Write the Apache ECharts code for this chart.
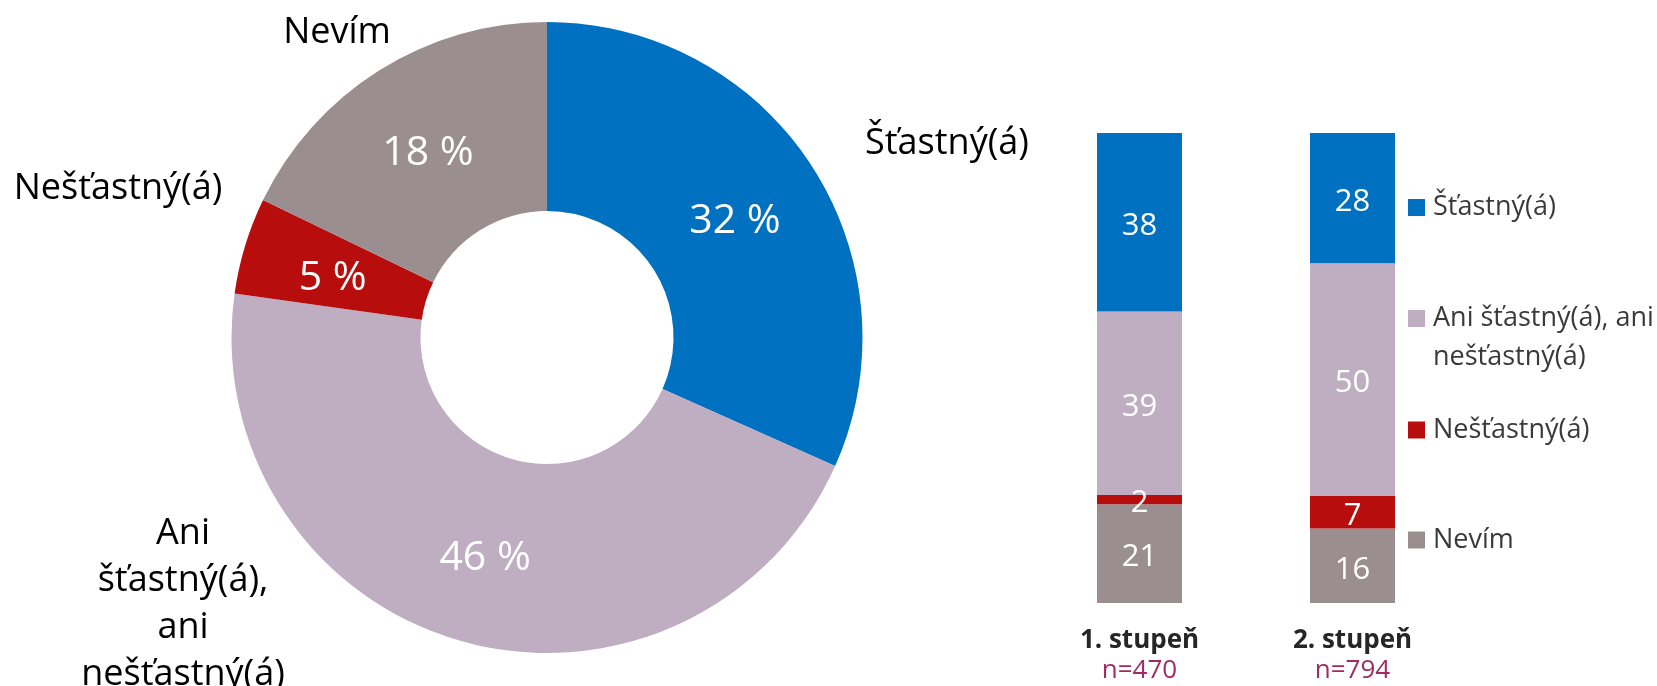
<!DOCTYPE html>
<html>
<head>
<meta charset="utf-8">
<script src="https://cdn.jsdelivr.net/npm/echarts@6/dist/echarts.min.js"></script>
<style>
html,body{margin:0;padding:0;background:#fff;}
#main{width:1657px;height:686px;}
</style>
</head>
<body>
<div id="main"></div>
<script>
// ---- data ----
const categories = ['Šťastný(á)', 'Ani šťastný(á), ani nešťastný(á)', 'Nešťastný(á)', 'Nevím'];
const overallPct = [32, 46, 5, 18];
const groups = ['1. stupeň', '2. stupeň'];
const groupN = [470, 794];
const happy = [38, 28];
const neither = [39, 50];
const unhappy = [2, 7];
const dontKnow = [21, 16];

// ---- styles / layout ----
const colors = ['#0070c0', '#bfadc2', '#b80d0d', '#9b8e91'];
const FONT = "'Open Sans', 'Noto Sans', sans-serif";
const outerLabelPos = [[947, 144], [183, 604], [118, 189], [337, 33]];
const legendTops = [188, 260, 410.5, 520.5];
const LH = 39;

const barValues = [happy, neither, unhappy, dontKnow];
const totals = groups.map((g, i) => barValues.reduce((s, arr) => s + arr[i], 0));

const stackOrder = [3, 2, 1, 0]; // bottom to top
const barSeries = stackOrder.map(k => ({
  name: categories[k],
  type: 'bar',
  stack: 'total',
  barWidth: 85,
  itemStyle: { color: colors[k] },
  data: barValues[k].map((v, i) => ({ value: v / totals[i] * 100, raw: v })),
  label: {
    show: true, position: 'inside', color: '#fff', fontSize: 31, fontFamily: FONT,
    offset: [0, 4],
    formatter: p => String(p.data.raw)
  },
  emphasis: { disabled: true }
}));

const pieData = categories.map((n, i) => ({ name: n, value: overallPct[i], itemStyle: { color: colors[i] } }));

const option = {
  animation: false,
  textStyle: { fontFamily: FONT },
  legend: categories.map((name, k) => ({
    left: 1408,
    top: legendTops[k],
    padding: 0,
    orient: 'vertical',
    icon: 'rect',
    itemWidth: 17,
    itemHeight: 17,
    selectedMode: false,
    data: [{ name: name, itemStyle: { color: colors[k] } }],
    formatter: nm => (nm.indexOf(' ') >= 0 ? ' \n' + nm.replace(/ (?=\S+$)/, '\n') : nm),
    textStyle: {
      fontSize: 27, color: '#3a3a3a', fontFamily: FONT, lineHeight: LH,
      padding: [0, 0, 0, 3]
    }
  })),
  grid: { left: 1033, width: 426, top: 133, bottom: 83 },
  xAxis: {
    type: 'category',
    data: groups,
    axisLine: { show: false },
    axisTick: { show: false },
    axisLabel: {
      margin: 23,
      formatter: (v, i) => '{a|' + v + '}\n{b|n=' + groupN[i] + '}',
      rich: {
        a: { fontSize: 26, fontWeight: 'bold', color: '#262626', lineHeight: 30, fontFamily: FONT },
        b: { fontSize: 26, color: '#a02b62', lineHeight: 30, fontFamily: FONT }
      }
    }
  },
  yAxis: { type: 'value', min: 0, max: 100, show: false },
  series: barSeries.concat([
    {
      type: 'pie',
      center: [547, 337.5],
      radius: [126.5, 315.5],
      startAngle: 90,
      clockwise: true,
      silent: true,
      data: pieData,
      label: { show: true, position: 'inside', formatter: '{c} %', color: '#fff', fontSize: 41, fontFamily: FONT, offset: [0, 6] },
      labelLine: { show: false },
      emphasis: { disabled: true }
    },
    {
      type: 'pie',
      center: [547, 337.5],
      radius: [126.5, 315.5],
      startAngle: 90,
      clockwise: true,
      silent: true,
      z: 3,
      data: pieData.map(d => ({ name: d.name, value: d.value, itemStyle: { color: 'rgba(0,0,0,0)' } })),
      label: {
        show: true, position: 'outside', color: '#000', fontSize: 36, lineHeight: 47, fontFamily: FONT,
        align: 'center', overflow: 'none',
        formatter: p => p.name.split(' ').join('\n')
      },
      labelLine: { show: false },
      labelLayout: p => ({ x: outerLabelPos[p.dataIndex][0], y: outerLabelPos[p.dataIndex][1], align: 'center', verticalAlign: 'middle' }),
      emphasis: { disabled: true }
    }
  ])
};

const chart = echarts.init(document.getElementById('main'), null, { renderer: 'canvas' });
chart.setOption(option);
</script>
</body>
</html>
